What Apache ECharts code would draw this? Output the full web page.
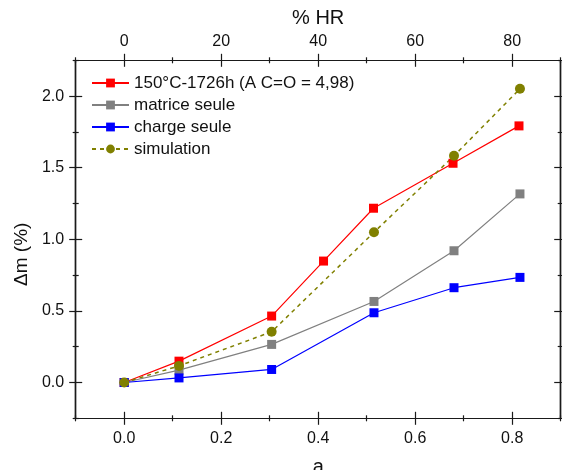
<!DOCTYPE html>
<html>
<head>
<meta charset="utf-8">
<script src="https://cdn.jsdelivr.net/npm/echarts@6/dist/echarts.min.js"></script>
<style>html,body{margin:0;padding:0;background:#fff;}#c{width:562px;height:470px;}</style>
</head>
<body>
<div id="c"></div>
<script>
// ---- data ----
var seriesNames = ['150°C-1726h (A C=O = 4,98)', 'matrice seule', 'charge seule', 'simulation'];
var aRed = [0, 0.113, 0.304, 0.411, 0.514, 0.678, 0.814];
var redVals = [0, 0.149, 0.464, 0.848, 1.217, 1.531, 1.792];
var aOther = [0, 0.113, 0.304, 0.515, 0.680, 0.816];
var greyVals = [0, 0.086, 0.266, 0.566, 0.920, 1.317];
var blueVals = [0, 0.032, 0.091, 0.487, 0.662, 0.734];
var simVals = [0, 0.116, 0.354, 1.049, 1.583, 2.051];
var xMajorTicks = [0, 0.2, 0.4, 0.6, 0.8];
var xMinorTicks = [-0.1, 0.1, 0.3, 0.5, 0.7, 0.9];
var yMajorTicks = [0, 0.5, 1.0, 1.5, 2.0];
var yMinorTicks = [-0.25, 0.25, 0.75, 1.25, 1.75, 2.25];
var bottomTitle = 'a', topTitle = '% HR', leftTitle = 'Δm (%)';

function zip(xs, ys) { return xs.map(function (x, i) { return [x, ys[i]]; }); }

var FONT = 'Liberation Sans, Arial, sans-serif';
var AX = '#1a1a1a';
var TXT = '#111';
var lineStyle = { color: AX, width: 1.2 };

function mkX(pos, ticks, len, inside, extra) {
  var o = {
    type: 'value', position: pos, min: -0.1, max: 0.9, interval: 0.1,
    axisLine: { show: true, onZero: false, lineStyle: lineStyle },
    axisTick: { show: true, inside: inside, length: len, customValues: ticks, lineStyle: lineStyle },
    axisLabel: { show: false },
    splitLine: { show: false }
  };
  return Object.assign(o, extra || {});
}
function mkY(pos, ticks, len, inside, extra) {
  var o = {
    type: 'value', position: pos, min: -0.25, max: 2.25, interval: 0.25,
    axisLine: { show: true, onZero: false, lineStyle: lineStyle },
    axisTick: { show: true, inside: inside, length: len, customValues: ticks, lineStyle: lineStyle },
    axisLabel: { show: false },
    splitLine: { show: false }
  };
  return Object.assign(o, extra || {});
}

var xAxes = [
  mkX('bottom', xMajorTicks, 6.5, false, {
    name: bottomTitle, nameLocation: 'middle', nameGap: 39,
    nameTextStyle: { fontFamily: FONT, fontSize: 20, color: TXT },
    axisLabel: { show: true, customValues: xMajorTicks, margin: 12.5, fontFamily: FONT, fontSize: 16, color: TXT,
      formatter: function (v) { return v.toFixed(1); } }
  }),
  mkX('bottom', xMajorTicks, 6.5, true),
  mkX('bottom', xMinorTicks, 3, false),
  mkX('bottom', xMinorTicks, 3, true),
  mkX('top', xMajorTicks, 6.5, false, {
    name: topTitle, nameLocation: 'middle', nameGap: 27,
    nameTextStyle: { fontFamily: FONT, fontSize: 20, color: TXT },
    axisLabel: { show: true, customValues: xMajorTicks, margin: 10.5, fontFamily: FONT, fontSize: 16, color: TXT,
      formatter: function (v) { return String(Math.round(v * 100)); } }
  }),
  mkX('top', xMajorTicks, 6.5, true),
  mkX('top', xMinorTicks, 3, false),
  mkX('top', xMinorTicks, 3, true)
];
var yAxes = [
  mkY('left', yMajorTicks, 6.5, false, {
    name: leftTitle, nameLocation: 'middle', nameGap: 39.5,
    nameTextStyle: { fontFamily: FONT, fontSize: 19, color: TXT, padding: [0, 30, 0, 0] },
    axisLabel: { show: true, customValues: yMajorTicks, margin: 11.5, fontFamily: FONT, fontSize: 16, color: TXT,
      formatter: function (v) { return v.toFixed(1); } }
  }),
  mkY('left', yMajorTicks, 6.5, true),
  mkY('left', yMinorTicks, 3, false),
  mkY('left', yMinorTicks, 3, true),
  mkY('right', yMajorTicks, 6.5, false),
  mkY('right', yMajorTicks, 6.5, true),
  mkY('right', yMinorTicks, 3, false),
  mkY('right', yMinorTicks, 3, true)
];

var chart = echarts.init(document.getElementById('c'), null, { renderer: 'canvas' });
chart.setOption({
  animation: false,
  backgroundColor: '#fff',
  grid: { left: 75.7, right: 1.3, top: 60.3, bottom: 51.7, containLabel: false, outerBoundsMode: 'none' },
  legend: {
    orient: 'vertical', left: 91, top: 74.5, padding: 0, itemWidth: 37, itemHeight: 11, itemGap: 5,
    textStyle: { fontFamily: FONT, fontSize: 17, color: TXT },
    data: seriesNames
  },
  xAxis: xAxes,
  yAxis: yAxes,
  series: [
    { name: seriesNames[0], type: 'line', data: zip(aRed, redVals), symbol: 'rect', symbolSize: 9,
      itemStyle: { color: '#ff0000' }, lineStyle: { color: '#ff0000', width: 1.2 } },
    { name: seriesNames[1], type: 'line', data: zip(aOther, greyVals), symbol: 'rect', symbolSize: 9,
      itemStyle: { color: '#808080' }, lineStyle: { color: '#808080', width: 1.2 } },
    { name: seriesNames[2], type: 'line', data: zip(aOther, blueVals), symbol: 'rect', symbolSize: 9,
      itemStyle: { color: '#0000ff' }, lineStyle: { color: '#0000ff', width: 1.2 } },
    { name: seriesNames[3], type: 'line', data: zip(aOther, simVals), symbol: 'circle', symbolSize: 10,
      itemStyle: { color: '#808000' }, lineStyle: { color: '#808000', width: 1.5, type: [4, 4] } }
  ]
});
</script>
</body>
</html>
